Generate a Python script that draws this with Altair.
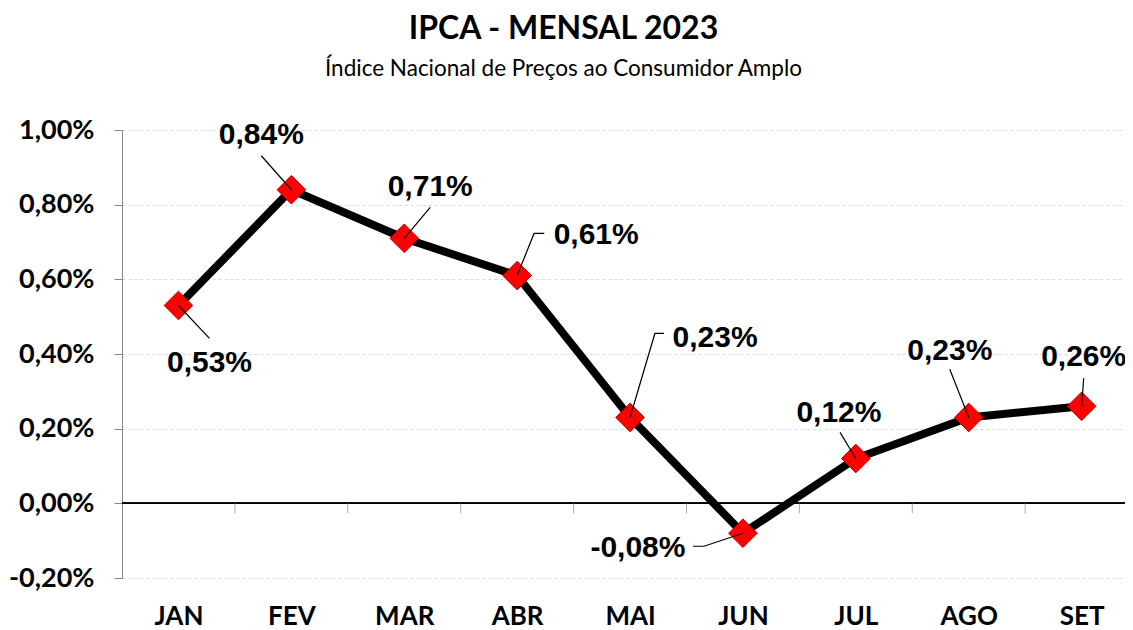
import json
import altair as alt
import pandas as pd

# ---- data ----
months = ["JAN", "FEV", "MAR", "ABR", "MAI", "JUN", "JUL", "AGO", "SET"]
values = [0.53, 0.84, 0.71, 0.61, 0.23, -0.08, 0.12, 0.23, 0.26]

# label anchors relative to each point (x in category units, y in % units)
label_dx = [0.275, -0.266, 0.23, 0.70, 0.753, -0.93, -0.15, -0.168, 0.018]
label_dy = [-0.153, 0.147, 0.137, 0.110, 0.214, -0.040, 0.123, 0.179, 0.131]
# leader lines: bend point and end point (end shares the bend's y)
bend_dx = [0.275, -0.266, 0.23, 0.15, 0.22, -0.345, -0.14, -0.168, 0.018]
bend_dy = [-0.088, 0.091, 0.083, 0.113, 0.225, -0.035, 0.070, 0.129, 0.075]
end_dx = [0.275, -0.266, 0.23, 0.24, 0.30, -0.443, -0.14, -0.168, 0.018]

y_ticks = [-0.2, 0.0, 0.2, 0.4, 0.6, 0.8, 1.0]


def fmt(v):
    return f"{v:.2f}".replace(".", ",") + "%"


idx = list(range(len(months)))
df = pd.DataFrame({"i": idx, "mes": months, "v": values})
df_lab = pd.DataFrame({
    "x": [i + d for i, d in zip(idx, label_dx)],
    "y": [v + d for v, d in zip(values, label_dy)],
    "t": [fmt(v) for v in values],
})
rows = []
for i, v, bx, by, ex in zip(idx, values, bend_dx, bend_dy, end_dx):
    rows.append({"m": i, "o": 0, "x": i, "y": v})
    rows.append({"m": i, "o": 1, "x": i + bx, "y": v + by})
    rows.append({"m": i, "o": 2, "x": i + ex, "y": v + by})
df_lead = pd.DataFrame(rows)
df_bounds = pd.DataFrame({"b": [i + 0.5 for i in idx[:-1]]})

plot_w, plot_h = 1003, 448
band_px = 112.9
xscale = alt.Scale(domain=[-0.5, -0.5 + plot_w / band_px], nice=False, zero=False)
yscale = alt.Scale(domain=[-0.2, 1.0], nice=False, zero=False)

month_expr = json.dumps(months) + "[datum.value]"
ylab_expr = ("replace(replace(format(datum.value, '.2f'), '.', ','), '\u2212', '-') + '%'")

x_axis = alt.Axis(values=idx, labelExpr=month_expr, domain=False, ticks=False,
                  grid=False, labelFont="Lato", labelFontSize=26,
                  labelFontWeight="bold", labelColor="black", labelPadding=25,
                  title=None)
y_axis = alt.Axis(values=y_ticks, labelExpr=ylab_expr, domain=True,
                  domainColor="#868686", tickColor="#868686", tickSize=8,
                  grid=True, gridColor="#d9d9d9", gridDash=[3, 3],
                  labelFont="Lato", labelFontSize=27, labelFontWeight="bold",
                  labelColor="black", labelPadding=20, title=None)

line = alt.Chart(df).mark_line(color="black", strokeWidth=8).encode(
    x=alt.X("i:Q", scale=xscale, axis=x_axis),
    y=alt.Y("v:Q", scale=yscale, axis=y_axis),
)

zero = alt.Chart(df).mark_rule(color="black", strokeWidth=1.3).encode(
    y=alt.datum(0)
)

ticks = alt.Chart(df_bounds).mark_tick(
    orient="vertical", size=10, thickness=1, yOffset=5, color="#868686"
).encode(x=alt.X("b:Q"), y=alt.datum(0))

points = alt.Chart(df).mark_point(
    shape="diamond", size=820, filled=True, fill="#ff0000",
    stroke="#c00000", strokeWidth=1, opacity=1
).encode(x="i:Q", y="v:Q")

leaders = alt.Chart(df_lead).mark_line(color="black", strokeWidth=1.2).encode(
    x="x:Q", y="y:Q", detail="m:N", order="o:Q"
)

labels = alt.Chart(df_lab).mark_text(
    font="Liberation Sans", fontSize=30, fontWeight="bold", color="black",
    align="center", baseline="middle"
).encode(x="x:Q", y="y:Q", text="t:N")

chart = alt.layer(zero, ticks, line, points, leaders, labels).properties(
    width=plot_w,
    height=plot_h,
    title=alt.TitleParams(
        text="IPCA - MENSAL 2023",
        subtitle="Índice Nacional de Preços ao Consumidor Amplo",
        font="Lato", fontSize=32, fontWeight="bold", color="black",
        subtitleFont="Lato", subtitleFontSize=22.5, subtitleColor="black",
        subtitlePadding=12, anchor="middle", dx=-60, offset=35,
    ),
    autosize=alt.AutoSizeParams(type="none"),
    padding={"left": 114, "top": 122, "right": 0, "bottom": 60},
    background="white",
).configure_view(stroke=None)

chart.save("out.html", embed_options={"renderer": "svg", "actions": False})
